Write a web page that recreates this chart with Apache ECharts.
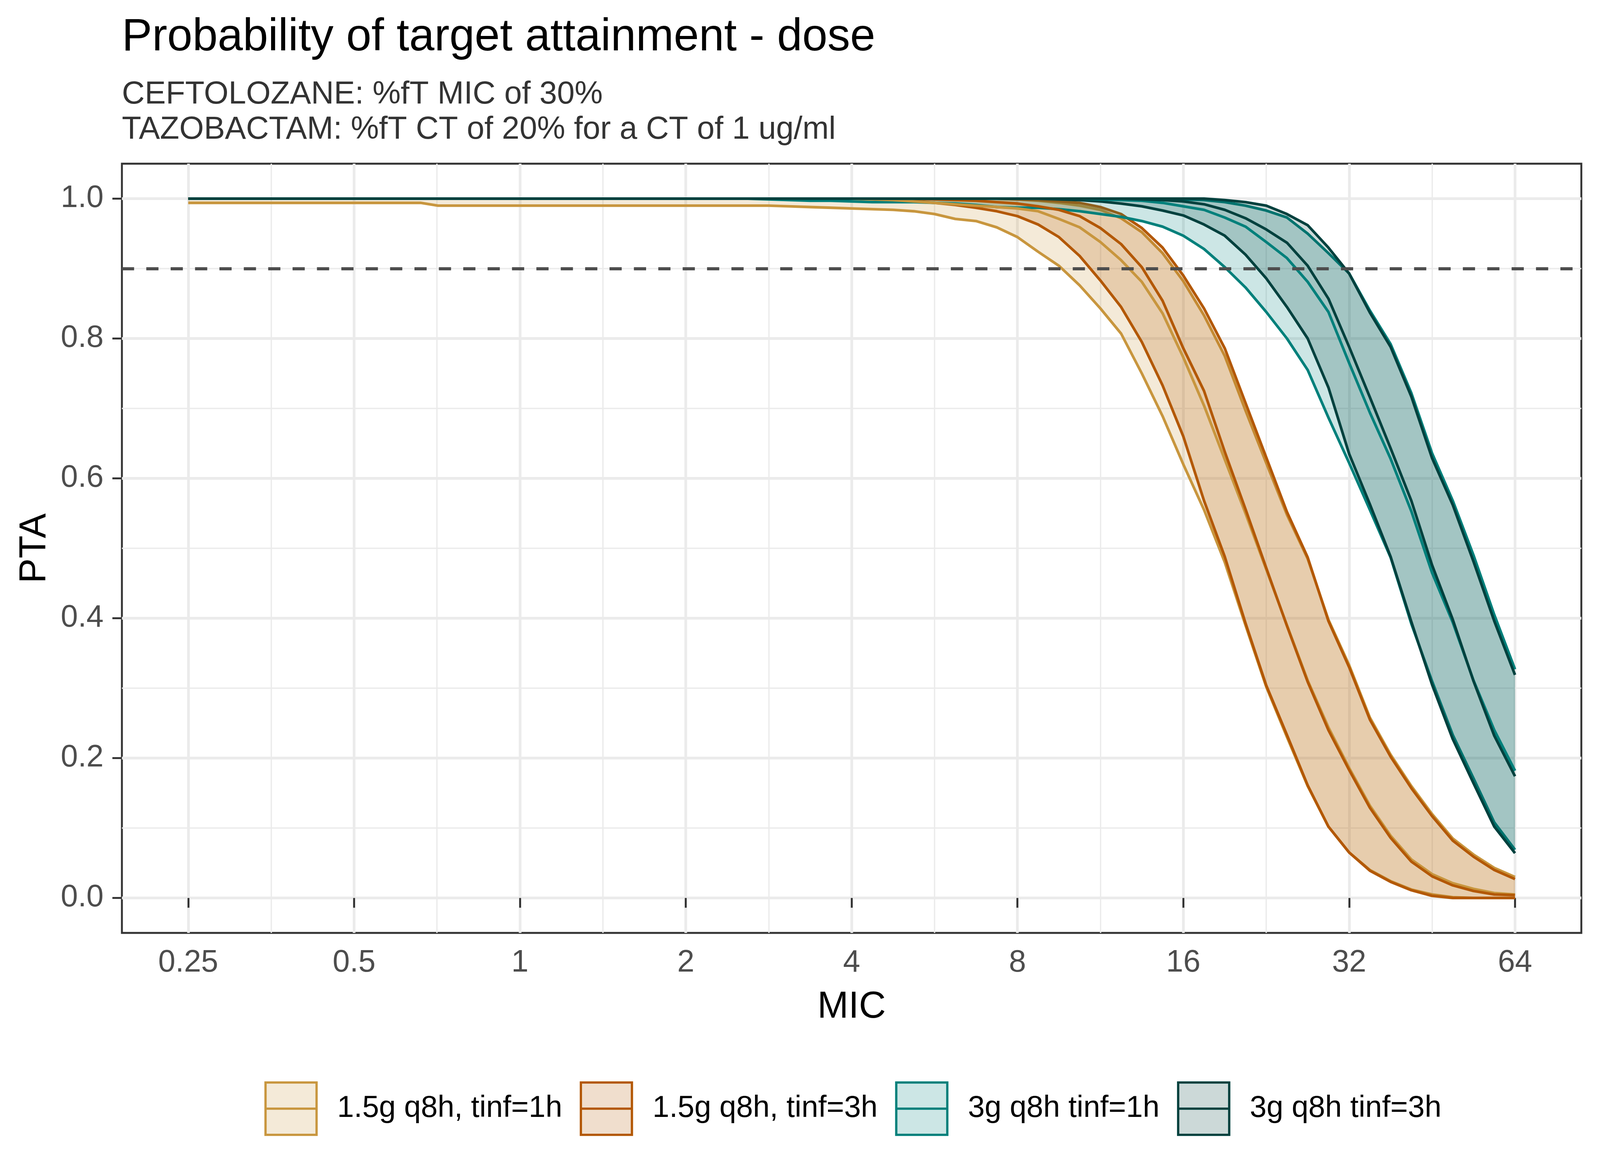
<!DOCTYPE html>
<html>
<head>
<meta charset="utf-8">
<script src="https://cdn.jsdelivr.net/npm/echarts@6.0.0/dist/echarts.min.js"></script>
<style>
html,body{margin:0;padding:0;background:#ffffff;overflow:hidden;}
#chart{width:100vw;height:100vh;}
</style>
</head>
<body>
<div id="chart"></div>
<script>
// ---------- data ----------
const mic = [0.25, 0.5, 0.66, 0.71, 1, 1.41,
  2, 2.181, 2.378, 2.594, 2.828, 3.084, 3.364, 3.668,
  4, 4.362, 4.757, 5.187, 5.657, 6.169, 6.727, 7.336,
  8, 8.724, 9.514, 10.375, 11.314, 12.338, 13.454, 14.672,
  16, 17.448, 19.027, 20.749, 22.627, 24.675, 26.909, 29.344,
  32, 34.897, 38.055, 41.499, 45.255, 49.35, 53.817, 58.688,
  64];

const xTicks = [0.25, 0.5, 1, 2, 4, 8, 16, 32, 64];
const xMinorTicks = [0.3536, 0.7071, 1.4142, 2.8284, 5.6569, 11.3137, 22.6274, 45.2548];
const yTicks = [0, 0.2, 0.4, 0.6, 0.8, 1.0];
const yMinorTicks = [0.1, 0.3, 0.5, 0.7, 0.9];
const targetPTA = 0.9;

const regimens = ['1.5g q8h, tinf=1h', '1.5g q8h, tinf=3h', '3g q8h tinf=1h', '3g q8h tinf=3h'];

// 1.5g q8h, tinf=1h
const pta15h1Lo = [0.994,0.994,0.994,0.990,0.990,0.990,
  0.990,0.990,0.990,0.990,0.990,0.989,0.988,0.987,
  0.986,0.985,0.984,0.982,0.978,0.971,0.968,0.959,
  0.945,0.924,0.904,0.876,0.843,0.807,0.750,0.689,
  0.620,0.555,0.480,0.390,0.302,0.230,0.160,0.102,
  0.065,0.040,0.024,0.012,0.005,0.001,0,0,
  0];
const pta15h1Mid = [1,1,1,1,1,1,
  1,1,1,1,1,1,1,1,
  1,0.999,0.998,0.996,0.994,0.992,0.990,0.988,
  0.986,0.982,0.971,0.959,0.938,0.912,0.881,0.836,
  0.773,0.704,0.627,0.550,0.470,0.390,0.311,0.244,
  0.186,0.132,0.089,0.055,0.034,0.021,0.013,0.007,
  0.005];
const pta15h1Hi = [1,1,1,1,1,1,
  1,1,1,1,1,1,1,1,
  1,1,1,1,1,1,1,1,
  0.999,0.997,0.994,0.990,0.984,0.972,0.952,0.922,
  0.882,0.833,0.775,0.697,0.622,0.548,0.485,0.398,
  0.333,0.258,0.205,0.160,0.120,0.085,0.062,0.043,
  0.030];

// 1.5g q8h, tinf=3h
const pta15h3Lo = [1,1,1,1,1,1,
  1,1,1,1,1,1,1,1,
  1,1,1,0.997,0.994,0.991,0.987,0.982,
  0.975,0.963,0.945,0.918,0.883,0.845,0.795,0.733,
  0.660,0.568,0.488,0.393,0.304,0.233,0.161,0.102,
  0.065,0.039,0.023,0.011,0.003,0,0,0,
  0];
const pta15h3Mid = [1,1,1,1,1,1,
  1,1,1,1,1,1,1,1,
  1,1,1,1,0.999,0.998,0.997,0.995,
  0.993,0.989,0.984,0.975,0.958,0.935,0.902,0.854,
  0.786,0.725,0.638,0.556,0.472,0.389,0.309,0.240,
  0.183,0.129,0.086,0.052,0.031,0.018,0.010,0.005,
  0.004];
const pta15h3Hi = [1,1,1,1,1,1,
  1,1,1,1,1,1,1,1,
  1,1,1,1,1,1,1,1,
  0.999,0.998,0.996,0.994,0.988,0.978,0.958,0.930,
  0.890,0.843,0.786,0.708,0.630,0.552,0.487,0.396,
  0.330,0.255,0.202,0.157,0.117,0.082,0.059,0.040,
  0.027];

// 3g q8h tinf=1h
const pta3h1Lo = [1,1,1,1,1,1,
  1,1,1,1,0.999,0.998,0.997,0.997,
  0.996,0.995,0.995,0.995,0.994,0.993,0.991,0.988,
  0.987,0.987,0.985,0.982,0.978,0.974,0.968,0.960,
  0.947,0.928,0.902,0.873,0.838,0.800,0.755,0.687,
  0.622,0.555,0.487,0.392,0.310,0.233,0.171,0.108,
  0.069];
const pta3h1Mid = [1,1,1,1,1,1,
  1,1,1,1,1,1,1,1,
  1,1,1,1,1,1,1,1,
  1,1,1,1,0.999,0.998,0.997,0.994,
  0.989,0.984,0.973,0.960,0.938,0.915,0.881,0.838,
  0.765,0.694,0.628,0.553,0.465,0.394,0.311,0.240,
  0.182];
const pta3h1Hi = [1,1,1,1,1,1,
  1,1,1,1,1,1,1,1,
  1,1,1,1,1,1,1,1,
  1,1,1,1,1,1,1,1,
  0.999,0.998,0.995,0.990,0.983,0.973,0.950,0.922,
  0.893,0.840,0.792,0.722,0.636,0.568,0.490,0.405,
  0.327];

// 3g q8h tinf=3h
const pta3h3Lo = [1,1,1,1,1,1,
  1,1,1,1,1,1,1,1,
  1,1,1,1,1,1,1,1,
  1,1,0.999,0.998,0.996,0.993,0.989,0.983,
  0.976,0.963,0.947,0.920,0.886,0.845,0.800,0.730,
  0.635,0.563,0.488,0.395,0.305,0.227,0.164,0.102,
  0.064];
const pta3h3Mid = [1,1,1,1,1,1,
  1,1,1,1,1,1,1,1,
  1,1,1,1,1,1,1,1,
  1,1,1,1,1,1,0.999,0.998,
  0.996,0.992,0.984,0.972,0.956,0.937,0.904,0.857,
  0.788,0.716,0.643,0.568,0.476,0.398,0.310,0.232,
  0.174];
const pta3h3Hi = [1,1,1,1,1,1,
  1,1,1,1,1,1,1,1,
  1,1,1,1,1,1,1,1,
  1,1,1,1,1,1,1,1,
  1,1,0.998,0.995,0.990,0.978,0.962,0.930,
  0.893,0.837,0.788,0.717,0.629,0.562,0.481,0.396,
  0.319];

// ---------- layout scaling (design is 4200 x 3000) ----------
const W = window.innerWidth || 4200;
const H = window.innerHeight || 3000;
const sx = W / 4200, sy = H / 3000;
const X = v => v * sx;
const Y = v => v * sy;
const F = v => v * sx;

// ---------- styling ----------
const lineColors = ['#C8963E', '#B35806', '#01807B', '#01413E'];
const FONT = 'Liberation Sans';

function rgba(hex, a) {
  const n = parseInt(hex.slice(1), 16);
  return 'rgba(' + ((n >> 16) & 255) + ',' + ((n >> 8) & 255) + ',' + (n & 255) + ',' + a + ')';
}

const groups = [
  {name: regimens[0], color: lineColors[0], lo: pta15h1Lo, mid: pta15h1Mid, hi: pta15h1Hi},
  {name: regimens[1], color: lineColors[1], lo: pta15h3Lo, mid: pta15h3Mid, hi: pta15h3Hi},
  {name: regimens[2], color: lineColors[2], lo: pta3h1Lo, mid: pta3h1Mid, hi: pta3h1Hi},
  {name: regimens[3], color: lineColors[3], lo: pta3h3Lo, mid: pta3h3Mid, hi: pta3h3Hi}
];

const pairs = arr => mic.map((m, i) => [m, arr[i]]);
const LW = F(7);

const series = [];
let z = 2;
groups.forEach((g) => {
  // ribbon between the lower and upper bound, drawn via the axes' coordinate conversion
  series.push({
    type: 'custom', name: g.name, coordinateSystem: 'cartesian2d',
    xAxisIndex: 0, yAxisIndex: 0,
    data: pairs(g.hi), encode: {x: 0, y: 1},
    silent: true, z: z, itemStyle: {color: g.color},
    renderItem: function (params, api) {
      if (params.dataIndex !== 0) return null;
      const pts = [];
      for (let i = 0; i < mic.length; i++) pts.push(api.coord([mic[i], g.hi[i]]));
      for (let i = mic.length - 1; i >= 0; i--) pts.push(api.coord([mic[i], g.lo[i]]));
      return {type: 'polygon', shape: {points: pts}, style: {fill: rgba(g.color, 0.2), stroke: null, lineWidth: 0}};
    }
  });
  // ribbon outlines
  [g.lo, g.hi].forEach(arr => {
    series.push({
      type: 'line', data: pairs(arr), symbol: 'none', silent: true,
      lineStyle: {color: g.color, width: LW, cap: 'butt', join: 'round'}, z: z + 1,
      emphasis: {disabled: true}
    });
  });
  z += 2;
});
groups.forEach(g => {
  series.push({
    type: 'line', data: pairs(g.mid), symbol: 'none', silent: true,
    lineStyle: {color: g.color, width: LW, cap: 'butt', join: 'round'}, z: z,
    emphasis: {disabled: true}
  });
});
series.push({
  type: 'line', data: [], symbol: 'none', silent: true, z: z + 1,
  markLine: {
    silent: true, symbol: ['none', 'none'], label: {show: false}, z: z + 1,
    lineStyle: {color: '#4D4D4D', width: F(8), type: [F(32), F(32)]},
    emphasis: {disabled: true},
    data: [{yAxis: targetPTA}]
  }
});

const xRangeMin = 0.18946, xRangeMax = 84.449; // 5% expansion of the log2 range
const yRangeMin = -0.05, yRangeMax = 1.05;

const option = {
  animation: false,
  backgroundColor: '#ffffff',
  textStyle: {fontFamily: FONT},
  title: {
    text: 'Probability of target attainment - dose',
    subtext: 'CEFTOLOZANE: %fT MIC of 30%\nTAZOBACTAM: %fT CT of 20% for a CT of 1 ug/ml',
    left: X(320), top: Y(32), padding: 0, itemGap: Y(36),
    textStyle: {fontSize: F(119), fontWeight: 'normal', color: '#000000', fontFamily: FONT, lineHeight: Y(130)},
    subtextStyle: {fontSize: F(83), color: '#333333', fontFamily: FONT, lineHeight: Y(90)}
  },
  grid: {
    left: X(320), top: Y(419), width: X(3831), height: Y(1969),
    show: true, borderColor: '#333333', borderWidth: F(5), backgroundColor: '#ffffff'
  },
  legend: {
    left: X(694), top: Y(2768), padding: 0, orient: 'horizontal',
    itemWidth: X(134), itemHeight: Y(134), itemGap: X(46), selectedMode: false,
    symbolKeepAspect: false,
    textStyle: {fontSize: F(79), color: '#000000', fontFamily: FONT, padding: [0, 0, 0, X(49)]},
    data: groups.map(g => ({
      name: g.name,
      icon: 'path://M0,0L10,0L10,10L0,10ZM0,5L10,5',
      itemStyle: {color: rgba(g.color, 0.2), borderColor: g.color, borderWidth: F(6), opacity: 1}
    }))
  },
  xAxis: [
    {
      type: 'log', logBase: 2, min: xRangeMin, max: xRangeMax,
      name: 'MIC', nameLocation: 'middle', nameGap: Y(142),
      nameTextStyle: {fontSize: F(98), color: '#000000', fontFamily: FONT, lineHeight: Y(98)},
      axisLine: {show: false},
      axisTick: {show: true, length: Y(25), customValues: xTicks, lineStyle: {color: '#333333', width: F(5)}},
      axisLabel: {
        show: true, customValues: xTicks, margin: Y(37), fontSize: F(81), lineHeight: Y(81),
        color: '#4D4D4D', fontFamily: FONT, formatter: v => String(v)
      },
      splitLine: {show: true, lineStyle: {color: '#EBEBEB', width: F(7)}},
      minorTick: {show: false}, minorSplitLine: {show: false}
    },
    {
      type: 'log', logBase: 2, min: xRangeMin, max: xRangeMax, position: 'top',
      axisLine: {show: false},
      axisTick: {show: false, customValues: xMinorTicks},
      axisLabel: {show: false, customValues: xMinorTicks},
      splitLine: {show: true, lineStyle: {color: '#EBEBEB', width: F(3.5)}}
    }
  ],
  yAxis: [
    {
      type: 'value', min: yRangeMin, max: yRangeMax,
      name: 'PTA', nameLocation: 'middle', nameGap: X(179),
      nameTextStyle: {fontSize: F(98), color: '#000000', fontFamily: FONT, lineHeight: F(98)},
      axisLine: {show: false},
      axisTick: {show: true, length: X(25), customValues: yTicks, lineStyle: {color: '#333333', width: F(5)}},
      axisLabel: {
        show: true, customValues: yTicks, margin: X(48), fontSize: F(81), lineHeight: Y(81),
        color: '#4D4D4D', fontFamily: FONT, formatter: v => v.toFixed(1)
      },
      splitLine: {show: true, lineStyle: {color: '#EBEBEB', width: F(7)}}
    },
    {
      type: 'value', min: yRangeMin, max: yRangeMax, position: 'right',
      axisLine: {show: false},
      axisTick: {show: false, customValues: yMinorTicks},
      axisLabel: {show: false, customValues: yMinorTicks},
      splitLine: {show: true, lineStyle: {color: '#EBEBEB', width: F(3.5)}}
    }
  ],
  series: series
};

const chart = echarts.init(document.getElementById('chart'), null, {renderer: 'canvas', width: W, height: H});
chart.setOption(option);
</script>
</body>
</html>
